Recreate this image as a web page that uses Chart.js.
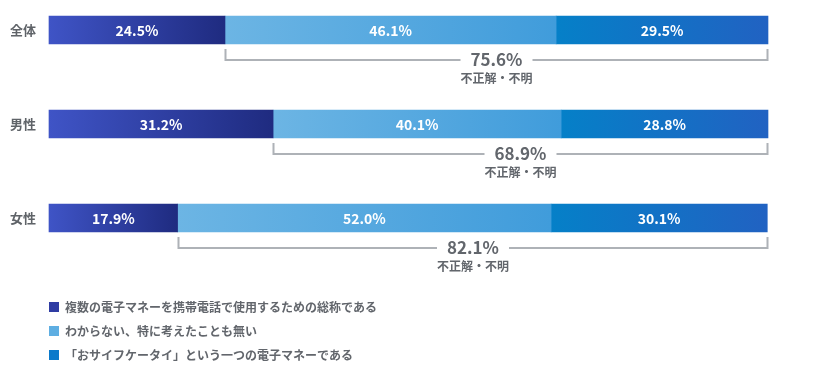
<!DOCTYPE html>
<html>
<head>
<meta charset="utf-8">
<script src="https://cdn.jsdelivr.net/npm/chart.js@4"></script>
<style>
  body { margin: 0; background: #fff; }
  #wrap { position: relative; width: 816px; height: 376px; }
</style>
</head>
<body>
<div id="wrap"><canvas id="chart" width="816" height="376"></canvas></div>
<script>
var categories = ["全体", "男性", "女性"];
var seriesNames = [
  "複数の電子マネーを携帯電話で使用するための総称である",
  "わからない、特に考えたことも無い",
  "「おサイフケータイ」という一つの電子マネーである"
];
var correct = [24.5, 31.2, 17.9];
var unknown = [46.1, 40.1, 52.0];
var wrong = [29.5, 28.8, 30.1];
var wrongTotal = [75.6, 68.9, 82.1];
var wrongLabel = "不正解・不明";

var FONT = "'Noto Sans CJK JP', 'Noto Sans', sans-serif";
var gradStops = [
  ["#3f54c6", "#1f2b80"],
  ["#6cb5e4", "#409cdb"],
  ["#0580c8", "#2162c2"]
];
var legendColors = ["#2f3ca3", "#5eaee2", "#0b7acb"];
var allSeries = [correct, unknown, wrong];

function segGradient(dsIndex) {
  return function (context) {
    var chart = context.chart;
    if (!chart.chartArea || !chart.scales.x) return legendColors[dsIndex];
    var i = context.dataIndex;
    var start = 0;
    for (var k = 0; k < dsIndex; k++) start += allSeries[k][i];
    var end = start + allSeries[dsIndex][i];
    var x0 = chart.scales.x.getPixelForValue(start);
    var x1 = chart.scales.x.getPixelForValue(end);
    var g = chart.ctx.createLinearGradient(x0, 0, x1, 0);
    g.addColorStop(0, gradStops[dsIndex][0]);
    g.addColorStop(1, gradStops[dsIndex][1]);
    return g;
  };
}

var extras = {
  id: "extras",
  afterDatasetsDraw: function (chart) {
    var ctx = chart.ctx;
    var x = chart.scales.x;
    var y = chart.scales.y;
    ctx.save();
    // segment value labels
    ctx.fillStyle = "#ffffff";
    ctx.font = "bold 14px " + FONT;
    ctx.textAlign = "center";
    ctx.textBaseline = "middle";
    chart.data.datasets.forEach(function (ds, di) {
      chart.getDatasetMeta(di).data.forEach(function (bar, i) {
        ctx.fillText(ds.data[i].toFixed(1) + "%", (bar.base + bar.x) / 2, bar.y + 1);
      });
    });
    // brackets for wrong + unknown
    categories.forEach(function (c, i) {
      var bar = chart.getDatasetMeta(1).data[i];
      var x0 = Math.round(bar.base) + 0.5;
      var x1 = Math.round(x.getPixelForValue(x.max)) - 0.5;
      var cy = y.getPixelForValue(i);
      var top = cy + 19;
      var lineY = cy + 30;
      var mid = (x0 + x1) / 2;
      ctx.font = "bold 17px " + FONT;
      var label = wrongTotal[i].toFixed(1) + "%";
      var half = ctx.measureText(label).width / 2 + 10;
      ctx.strokeStyle = "#aeb2b7";
      ctx.lineWidth = 2;
      ctx.beginPath();
      ctx.moveTo(x0, top);
      ctx.lineTo(x0, lineY);
      ctx.lineTo(mid - half, lineY);
      ctx.moveTo(mid + half, lineY);
      ctx.lineTo(x1, lineY);
      ctx.lineTo(x1, top);
      ctx.stroke();
      ctx.fillStyle = "#62666c";
      ctx.fillText(label, mid, lineY);
      ctx.font = "bold 12px " + FONT;
      ctx.fillText(wrongLabel, mid, lineY + 18);
    });
    // legend
    ctx.textAlign = "left";
    ctx.font = "bold 12px " + FONT;
    var rows = [307, 331, 355];
    chart.data.datasets.forEach(function (ds, di) {
      ctx.fillStyle = legendColors[di];
      ctx.fillRect(49, rows[di] - 5, 10, 10);
      ctx.fillStyle = "#62666c";
      ctx.fillText(ds.label, 65, rows[di]);
    });
    ctx.restore();
  }
};

new Chart(document.getElementById("chart").getContext("2d"), {
  type: "bar",
  data: {
    labels: categories,
    datasets: [
      { label: seriesNames[0], data: correct, backgroundColor: segGradient(0) },
      { label: seriesNames[1], data: unknown, backgroundColor: segGradient(1) },
      { label: seriesNames[2], data: wrong, backgroundColor: segGradient(2) }
    ]
  },
  options: {
    indexAxis: "y",
    responsive: false,
    animation: false,
    events: [],
    layout: { padding: { top: 30, bottom: 158, right: 48, left: 0 } },
    datasets: { bar: { barThickness: 28, clip: false, borderWidth: 0 } },
    scales: {
      x: { stacked: true, min: 0, max: 100.1, display: false },
      y: {
        stacked: true,
        offset: false,
        grid: { display: false, drawTicks: false },
        border: { display: false },
        afterFit: function (s) { s.width = 49; },
        ticks: { padding: 13, color: "#5f6368", font: { family: FONT, size: 13, weight: "bold" } }
      }
    },
    plugins: { legend: { display: false }, tooltip: { enabled: false } }
  },
  plugins: [extras]
});
</script>
</body>
</html>
